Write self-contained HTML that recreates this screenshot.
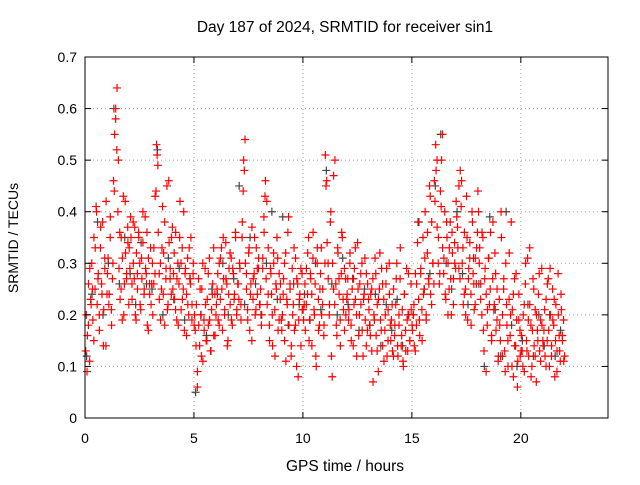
<!DOCTYPE html>
<html><head><meta charset="utf-8"><style>
body{margin:0;background:#fff}
svg text{font-family:"Liberation Sans",sans-serif;font-size:14px;fill:#000}
</style></head><body>
<svg id="chart" width="640" height="480">
<rect width="640" height="480" fill="#fff"/>
<g id="grid"></g><g id="gray"></g><g id="red"></g>
<rect x="85" y="57" width="523" height="361" fill="none" stroke="#000" stroke-width="1"/>
<g id="ticks"></g>
<text x="345" y="32" text-anchor="middle" style="font-size:15.5px">Day 187 of 2024, SRMTID for receiver sin1</text>
<text x="345" y="471" text-anchor="middle" style="font-size:15.5px">GPS time / hours</text>
<text transform="translate(18,238) rotate(-90)" text-anchor="middle">SRMTID / TECUs</text>
</svg>
<script>
const xTicks=[0,5,10,15,20];
const yTicks=[0,0.1,0.2,0.3,0.4,0.5,0.6,0.7];
const yLabels=["0","0.1","0.2","0.3","0.4","0.5","0.6","0.7"];
const redHours=[
[.13,.09,.18,.29,.22,.25,.15,.33,.40,.27,.20,.37,.24,.14,.31,.42],
[.28,.22,.35,.18,.30,.44,.58,.64,.50,.36,.25,.31,.20,.42,.27,.34],
[.33,.39,.26,.30,.37,.19,.28,.35,.22,.31,.40,.25,.29,.36,.17,.24],
[.22,.30,.26,.43,.53,.49,.28,.19,.33,.24,.38,.29,.21,.46,.27,.35],
[.25,.32,.21,.27,.18,.35,.30,.23,.40,.28,.16,.22,.33,.26,.19,.30],
[.20,.14,.06,.18,.25,.12,.30,.17,.22,.15,.28,.19,.13,.24,.33,.16],
[.22,.28,.18,.31,.25,.35,.20,.27,.14,.24,.32,.19,.29,.23,.36,.21],
[.26,.30,.22,.38,.50,.54,.28,.19,.33,.24,.15,.27,.35,.21,.29,.31],
[.22,.18,.29,.36,.46,.42,.24,.15,.28,.20,.32,.12,.25,.31,.19,.26],
[.17,.24,.30,.11,.22,.39,.26,.14,.20,.33,.18,.27,.08,.23,.29,.21],
[.19,.26,.22,.32,.15,.28,.24,.36,.20,.12,.30,.17,.25,.33,.22,.18],
[.51,.46,.30,.22,.40,.08,.25,.50,.18,.33,.27,.14,.36,.23,.29,.20],
[.24,.19,.30,.15,.27,.22,.33,.12,.25,.20,.28,.17,.23,.31,.14,.26],
[.21,.16,.25,.07,.19,.28,.13,.23,.32,.17,.26,.11,.20,.29,.15,.24],
[.15,.22,.12,.18,.27,.14,.20,.33,.16,.11,.24,.13,.19,.28,.15,.21],
[.17,.22,.13,.26,.38,.19,.28,.15,.24,.31,.20,.36,.26,.43,.22,.30],
[.46,.53,.50,.35,.28,.41,.55,.31,.24,.38,.20,.33,.27,.36,.22,.30],
[.42,.37,.29,.48,.46,.33,.24,.20,.35,.27,.31,.18,.38,.26,.22,.33],
[.44,.30,.23,.36,.17,.27,.09,.21,.31,.25,.16,.38,.22,.28,.19,.12],
[.18,.40,.12,.27,.09,.22,.15,.32,.20,.10,.24,.14,.28,.06,.19,.12],
[.16,.10,.22,.30,.13,.19,.33,.08,.17,.25,.12,.20,.15,.28,.11,.18],
[.14,.21,.10,.26,.17,.29,.12,.19,.23,.15,.09,.20,.13,.24,.16,.11]
];
const redHours2=[
[.20,.16,.26,.11,.23,.30,.19,.35,.25,.41,.22,.28,.17,.33,.26,.38,.21,.29,.14,.24],
[.31,.24,.39,.21,.27,.46,.55,.60,.52,.40,.29,.23,.35,.19,.43,.26,.32,.28,.37,.22],
[.29,.35,.23,.38,.27,.20,.32,.25,.36,.30,.21,.27,.34,.24,.39,.28,.18,.31,.26,.33],
[.26,.20,.33,.28,.44,.51,.36,.23,.30,.25,.41,.32,.18,.27,.45,.22,.34,.29,.24,.37],
[.28,.23,.36,.19,.30,.26,.42,.21,.33,.25,.17,.29,.24,.31,.20,.27,.35,.22,.28,.18],
[.17,.22,.09,.27,.14,.20,.25,.11,.19,.29,.15,.23,.18,.31,.13,.21,.26,.16,.24,.20],
[.25,.19,.30,.23,.33,.17,.27,.21,.34,.26,.15,.29,.22,.31,.18,.28,.24,.35,.20,.26],
[.23,.29,.19,.35,.44,.48,.30,.25,.21,.32,.17,.26,.37,.23,.28,.20,.33,.24,.29,.22],
[.25,.20,.31,.39,.43,.27,.22,.33,.18,.29,.24,.14,.30,.21,.26,.35,.17,.28,.23,.19],
[.20,.27,.15,.32,.23,.36,.18,.25,.12,.29,.22,.17,.31,.10,.26,.19,.24,.14,.28,.21],
[.22,.17,.29,.24,.35,.19,.27,.14,.31,.21,.26,.10,.33,.23,.18,.28,.20,.25,.16,.30],
[.45,.34,.27,.20,.38,.12,.30,.47,.22,.26,.16,.32,.24,.19,.28,.35,.21,.17,.27,.23],
[.27,.21,.32,.18,.25,.14,.29,.23,.20,.34,.16,.26,.22,.30,.12,.24,.19,.28,.17,.23],
[.18,.24,.13,.27,.20,.31,.16,.22,.09,.25,.19,.29,.14,.23,.17,.26,.12,.21,.30,.18],
[.19,.13,.25,.16,.22,.30,.12,.18,.27,.14,.21,.10,.24,.17,.29,.13,.20,.15,.26,.18],
[.20,.14,.28,.18,.34,.23,.16,.29,.21,.35,.25,.40,.19,.32,.27,.45,.24,.38,.30,.26],
[.42,.48,.37,.30,.26,.44,.50,.33,.28,.40,.23,.35,.30,.25,.38,.20,.32,.27,.34,.29],
[.39,.33,.45,.27,.41,.30,.22,.36,.25,.43,.19,.29,.34,.24,.40,.28,.21,.31,.26,.36],
[.40,.33,.26,.20,.35,.13,.29,.24,.18,.31,.22,.36,.15,.27,.21,.32,.17,.25,.11,.23],
[.15,.35,.20,.25,.13,.30,.18,.10,.23,.16,.38,.21,.08,.27,.14,.19,.11,.24,.17,.13],
[.13,.20,.09,.26,.15,.31,.12,.22,.18,.10,.27,.14,.21,.07,.17,.24,.13,.19,.29,.15],
[.17,.12,.23,.15,.27,.10,.20,.14,.25,.18,.08,.22,.13,.28,.16,.11,.21,.15,.19,.12]
];
const grayHours=[
[.12,.24,.38,.20],[.30,.60,.26,.35],[.28,.22,.34,.26],[.25,.52,.20,.31],
[.23,.29,.19,.27],[.05,.20,.16,.25],[.24,.30,.20,.27],[.45,.22,.35,.26],
[.20,.30,.40,.23],[.39,.18,.26,.22],[.24,.19,.30,.21],[.48,.26,.20,.31],
[.22,.27,.17,.25],[.18,.24,.14,.22],[.17,.23,.14,.20],[.20,.38,.25,.28],
[.45,.55,.30,.25],[.40,.28,.22,.31],[.26,.10,.39,.21],[.12,.40,.18,.10],
[.15,.22,.12,.20],[.14,.20,.12,.17]
];
const NS="http://www.w3.org/2000/svg";
const X=t=>85+t*(523/24), Y=v=>418-v*(361/0.7);
const grid=document.getElementById('grid'), ticks=document.getElementById('ticks');
function mk(tag,attrs,parent){const e=document.createElementNS(NS,tag);for(const k in attrs)e.setAttribute(k,attrs[k]);parent.appendChild(e);return e;}
xTicks.forEach(t=>{
  const x=X(t);
  if(t>0){const g=mk('line',{x1:x,x2:x,y1:57,y2:418,stroke:'#a0a0a0','stroke-dasharray':'1,3'},grid);
  
  }
  mk('line',{x1:x,x2:x,y1:418,y2:412,stroke:'#000'},ticks);
  mk('line',{x1:x,x2:x,y1:57,y2:63,stroke:'#000'},ticks);
  const l=mk('text',{x:x,y:443,'text-anchor':'middle'},ticks);l.textContent=t;
  
  
});
yTicks.forEach((v,i)=>{
  const y=Y(v);
  if(i>0&&i<yTicks.length-1){const g=mk('line',{x1:85,x2:608,y1:y,y2:y,stroke:'#a0a0a0','stroke-dasharray':'1,3'},grid);
  
  }
  mk('line',{x1:85,x2:91,y1:y,y2:y,stroke:'#000'},ticks);
  mk('line',{x1:608,x2:602,y1:y,y2:y,stroke:'#000'},ticks);
  const l=mk('text',{x:77,y:y+5,'text-anchor':'end'},ticks);l.textContent=yLabels[i];
  
  
});
function plus(parent,t,v,color,name){
  const x=X(t),y=Y(v),s=4;
  const p=mk('path',{d:`M${x-s},${y}H${x+s}M${x},${y-s}V${y+s}`,stroke:color,'stroke-width':1.2,fill:'none'},parent);
  
  
}
const gG=document.getElementById('gray'), gR=document.getElementById('red');
grayHours.forEach((arr,h)=>arr.forEach((v,i)=>plus(gG,h+(i+0.3)/arr.length,v,'#444','gray-point')));
redHours.forEach((arr,h)=>arr.forEach((v,i)=>plus(gR,h+(i+0.5)/arr.length,v,'#f00','red-point')));
redHours2.forEach((arr,h)=>arr.forEach((v,i)=>plus(gR,h+(i+0.2)/arr.length+0.05,v,'#f00','red-point')));
</script>
</body></html>
